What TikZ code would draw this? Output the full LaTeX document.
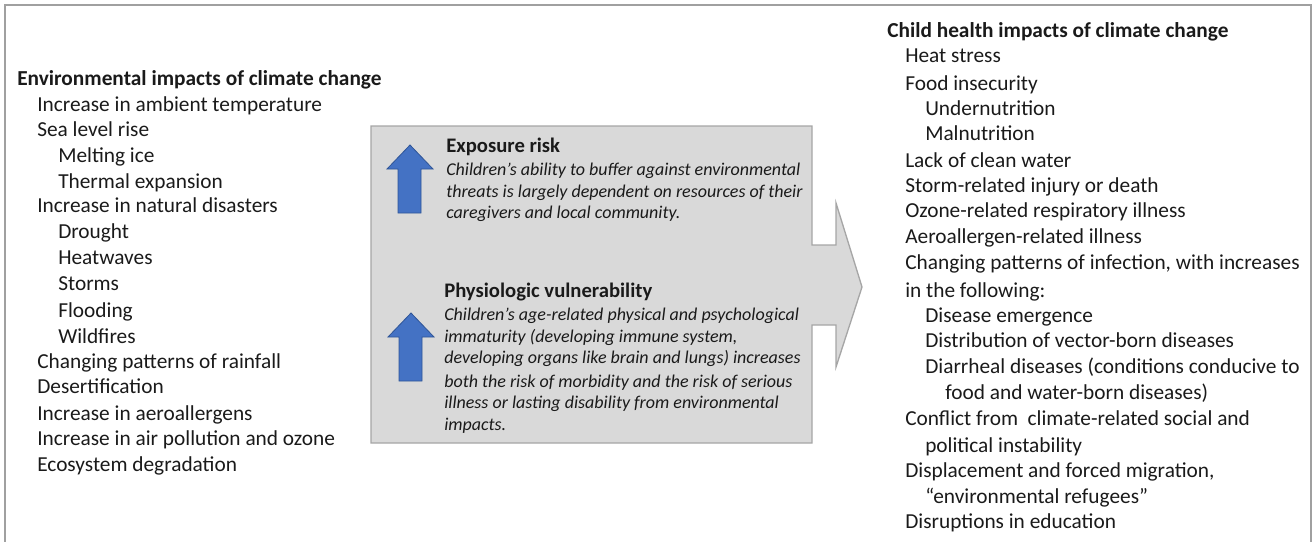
\documentclass[tikz,border=0pt]{standalone}
\usepackage{fontspec}
\setmainfont{Carlito}
\definecolor{txt}{HTML}{1A1A1A}
\definecolor{boxfill}{HTML}{D9D9D9}
\definecolor{boxline}{HTML}{A6A6A6}
\definecolor{framec}{HTML}{A0A0A0}
\definecolor{arrblue}{HTML}{4472C4}
\definecolor{arrline}{HTML}{2F5597}
\begin{document}
\begin{tikzpicture}[x=0.75pt,y=-0.75pt,
  lst/.style={anchor=base west, inner sep=0pt, text=txt, font=\fontsize{16}{19}\selectfont},
  ttl/.style={anchor=base west, inner sep=0pt, text=txt, font=\fontsize{16}{19}\selectfont\bfseries},
  head/.style={anchor=base west, inner sep=0pt, text=txt, font=\fontsize{15.5}{19}\selectfont\bfseries},
  itl/.style={anchor=base west, inner sep=0pt, text=txt, font=\fontsize{13.5}{16}\selectfont\itshape},
  bluearrow/.style={fill=arrblue, draw=arrline, line width=0.6pt},
  midbox/.style={fill=boxfill, draw=boxline, line width=1pt},
  frame/.style={draw=framec, line width=1pt}]
\useasboundingbox (0,0) rectangle (1316,542);
\draw[frame] (5,545) -- (5,5) -- (1311,5) -- (1311,545);

% middle box with arrow
\draw[midbox] (371,126) -- (812,126) -- (812,245) -- (836,245) -- (836,203) -- (862,287)
  -- (836,367) -- (836,325) -- (812,325) -- (812,443) -- (371,443) -- cycle;
\draw[bluearrow, shift={(387,145)}] (11,68) -- (11,24) -- (0,24) -- (23,0) -- (46,24) -- (34,24) -- (34,68) -- cycle;
\draw[bluearrow, shift={(388,313)}] (11,68) -- (11,24) -- (0,24) -- (23,0) -- (46,24) -- (34,24) -- (34,68) -- cycle;

\node[head] (eh) at (446,152) {Exposure risk};
\node[itl] (e1) at (446,175) {Children’s ability to buffer against environmental};
\node[itl] (e2) at (446,197) {threats is largely dependent on resources of their};
\node[itl] (e3) at (446,218) {caregivers and local community.};

\node[head] (ph) at (444,297) {Physiologic vulnerability};
\node[itl] (p1) at (444,320) {Children’s age-related physical and psychological};
\node[itl] (p2) at (444,342) {immaturity (developing immune system,};
\node[itl] (p3) at (444,363) {developing organs like brain and lungs) increases};
\node[itl] (p4) at (444,387) {both the risk of morbidity and the risk of serious};
\node[itl] (p5) at (444,408) {illness or lasting disability from environmental};
\node[itl] (p6) at (444,430) {impacts.};

% left list
\node[ttl] (l0) at (17,85) {Environmental impacts of climate change};
\node[lst] (l1) at (37,111) {Increase in ambient temperature};
\node[lst] (l2) at (37,136) {Sea level rise};
\node[lst] (l3) at (58,162) {Melting ice};
\node[lst] (l4) at (58,188) {Thermal expansion};
\node[lst] (l5) at (37,212) {Increase in natural disasters};
\node[lst] (l6) at (58,238) {Drought};
\node[lst] (l7) at (58,264) {Heatwaves};
\node[lst] (l8) at (58,290) {Storms};
\node[lst] (l9) at (58,317) {Flooding};
\node[lst] (l10) at (58,343) {Wildfires};
\node[lst] (l11) at (37,368) {Changing patterns of rainfall};
\node[lst] (l12) at (37,393) {Desertification};
\node[lst] (l13) at (37,420) {Increase in aeroallergens};
\node[lst] (l14) at (37,445) {Increase in air pollution and ozone};
\node[lst] (l15) at (37,471) {Ecosystem degradation};

% right list
\node[ttl] (r0) at (887,38) {Child health impacts of climate change};
\node[lst] (r1) at (905,63) {Heat stress};
\node[lst] (r2) at (905,90) {Food insecurity};
\node[lst] (r3) at (925,115) {Undernutrition};
\node[lst] (r4) at (925,140) {Malnutrition};
\node[lst] (r5) at (905,167) {Lack of clean water};
\node[lst] (r6) at (905,192) {Storm-related injury or death};
\node[lst] (r7) at (905,217) {Ozone-related respiratory illness};
\node[lst] (r8) at (905,243) {Aeroallergen-related illness};
\node[lst] (r9) at (905,269) {Changing patterns of infection, with increases};
\node[lst] (r10) at (905,297) {in the following:};
\node[lst] (r11) at (925,322) {Disease emergence};
\node[lst] (r12) at (925,347) {Distribution of vector-born diseases};
\node[lst] (r13) at (925,373) {Diarrheal diseases (conditions conducive to};
\node[lst] (r14) at (945,399) {food and water-born diseases)};
\node[lst] (r15) at (905,425) {Conflict from\ \ climate-related social and};
\node[lst] (r16) at (925,452) {political instability};
\node[lst] (r17) at (905,477) {Displacement and forced migration,};
\node[lst] (r18) at (925,503) {“environmental refugees”};
\node[lst] (r19) at (905,528) {Disruptions in education};
\end{tikzpicture}
\end{document}
